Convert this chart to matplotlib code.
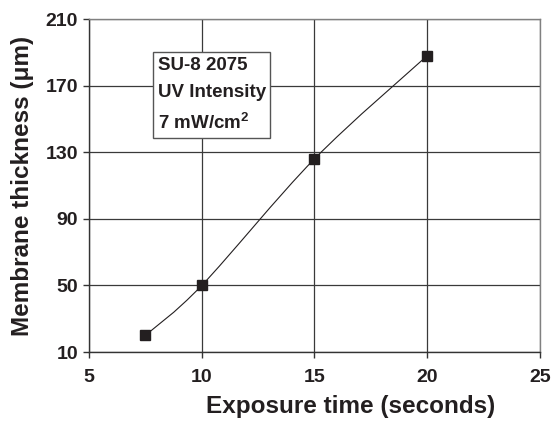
import matplotlib
matplotlib.use("Agg")
import matplotlib.pyplot as plt
import numpy as np
from matplotlib.path import Path
from matplotlib.patches import PathPatch

plt.rcParams['font.family'] = ['Liberation Sans', 'DejaVu Sans']
plt.rcParams['mathtext.fontset'] = 'custom'
plt.rcParams['mathtext.rm'] = 'Liberation Sans:bold'
plt.rcParams['mathtext.it'] = 'Liberation Sans:bold'
plt.rcParams['mathtext.bf'] = 'Liberation Sans:bold'

# data
exposure_s = [7.5, 10, 15, 20]
thickness_um = [20, 50, 126, 188]
x_ticks = [5, 10, 15, 20, 25]
y_ticks = [10, 50, 90, 130, 170, 210]

fig = plt.figure(figsize=(5.51, 4.23), dpi=100)
ax = fig.add_axes([0.1615, 0.1678, 0.8185, 0.7872])

# smoothed line (excel style bezier through the points)
pts = np.column_stack([exposure_s, thickness_um]).astype(float)
padded = np.vstack([pts[:1], pts, pts[-1:]])
verts = [tuple(pts[0])]
codes = [Path.MOVETO]
for i in range(len(pts) - 1):
    p0, p1, p2, p3 = padded[i], padded[i + 1], padded[i + 2], padded[i + 3]
    c1 = p1 + (p2 - p0) / 6
    c2 = p2 - (p3 - p1) / 6
    verts += [tuple(c1), tuple(c2), tuple(p2)]
    codes += [Path.CURVE4] * 3
ax.add_patch(PathPatch(Path(verts, codes), fill=False, edgecolor='#231f20', lw=0.8, zorder=3))

ax.plot(exposure_s, thickness_um, ls='none', marker='s', ms=7.5, color='#231f20', zorder=4)

ax.set_xlim(5, 25)
ax.set_ylim(10, 210)
ax.set_xticks(x_ticks)
ax.set_yticks(y_ticks)
ax.grid(True, color='#3a3a3a', lw=0.9)
ax.set_axisbelow(True)
for s in ax.spines.values():
    s.set_color('#808080')
    s.set_linewidth(1.0)
ax.spines['left'].set_color('#333333')
ax.spines['bottom'].set_color('#333333')
ax.tick_params(direction='out', length=4, width=1, color='#333333', labelsize=14)
ax.tick_params(axis='x', pad=8)
ax.tick_params(axis='y', pad=4)
for lab in ax.get_xticklabels() + ax.get_yticklabels():
    lab.set_fontweight('bold')
    lab.set_color('#231f20')

ax.set_xlabel('Exposure time (seconds)', fontsize=17.5, fontweight='bold', color='#231f20')
ax.xaxis.set_label_coords(0.58, -0.13)
ax.set_ylabel('Membrane thickness (μm)', fontsize=17.5, fontweight='bold', color='#231f20', labelpad=8)

ax.text(0.152, 0.886, 'SU-8 2075\nUV Intensity\n7 mW/cm$^2$', transform=ax.transAxes,
        ha='left', va='top', fontsize=13.5, fontweight='bold', color='#231f20', linespacing=1.75,
        bbox=dict(boxstyle='square,pad=0.25', fc='white', ec='#555555', lw=1.0), zorder=5)

fig.savefig('out.png', dpi=100)
